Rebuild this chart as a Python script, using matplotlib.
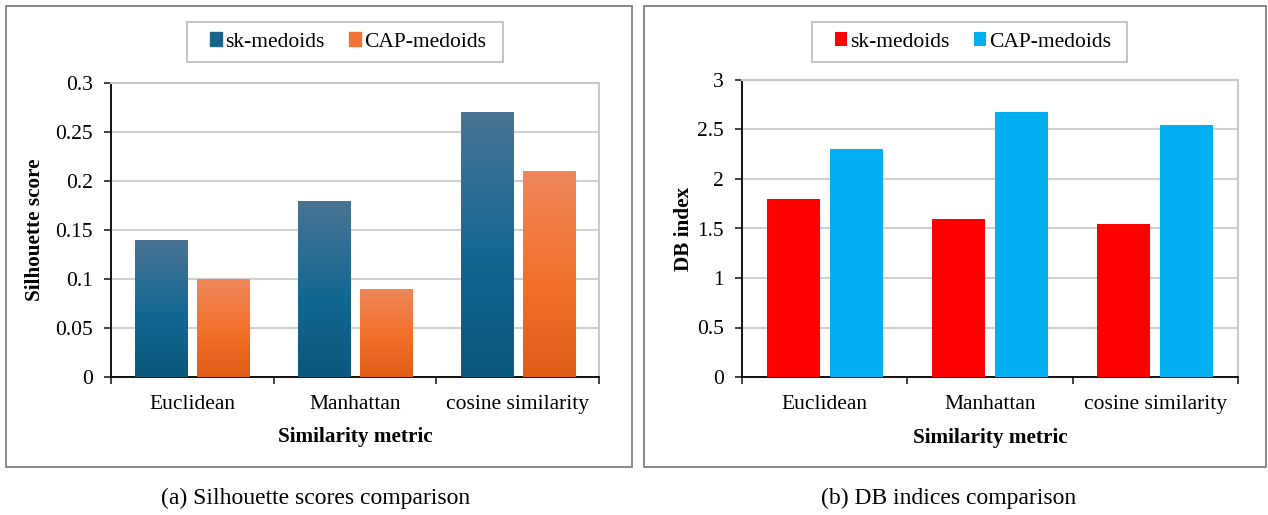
import numpy as np
import matplotlib.pyplot as plt
from matplotlib.colors import LinearSegmentedColormap
from matplotlib.patches import Rectangle

# Data
metrics = ["Euclidean", "Manhattan", "cosine similarity"]
series = ["sk-medoids", "CAP-medoids"]
silhouette_sk = [0.14, 0.18, 0.27]
silhouette_cap = [0.10, 0.09, 0.21]
db_sk = [1.80, 1.60, 1.55]
db_cap = [2.30, 2.68, 2.55]

plt.rcParams['font.family'] = ['Liberation Serif', 'DejaVu Serif']

BAR_W = 0.32
OFFSET = 0.19
TICK_FS = 15.5
LABEL_FS = 15.3

# gradients from bottom to top
blue_grad = LinearSegmentedColormap.from_list(
    "blue", [(0, "#0b587b"), (0.45, "#126892"), (1, "#4b7494")])
orange_grad = LinearSegmentedColormap.from_list(
    "orange", [(0, "#e05d18"), (0.45, "#f26f28"), (1, "#ee875a")])

W, H = 1268, 515


def gradient_bars(ax, bars, cmap):
    grad = np.linspace(0, 1, 256).reshape(-1, 1)
    for b in bars:
        x, y = b.get_x(), b.get_y()
        w, h = b.get_width(), b.get_height()
        im = ax.imshow(grad, cmap=cmap, origin="lower", aspect="auto",
                       extent=(x, x + w, y, y + h), zorder=3)
        im.set_clip_path(b)
        b.set_alpha(0)


def style_axes(ax, ymax, ystep, ylabel, ylabel_x):
    x = np.arange(len(metrics))
    yt = np.arange(0, ymax + ystep / 2, ystep)
    ax.set_xlim(-0.5, len(metrics) - 0.5)
    ax.set_ylim(0, ymax)
    ax.set_yticks(yt)
    ax.set_yticklabels(["%g" % v for v in yt])
    ax.set_xticks(np.arange(-0.5, len(metrics)))
    ax.set_xticklabels([])
    ax.set_xticks(x, minor=True)
    ax.set_xticklabels(metrics, minor=True)
    ax.tick_params(axis="x", which="major", direction="out", length=5,
                   width=1.3, color="#333333")
    ax.tick_params(axis="x", which="minor", length=0, pad=13,
                   labelsize=TICK_FS)
    ax.tick_params(axis="y", direction="out", length=5, width=1.3,
                   color="#333333", labelsize=TICK_FS, pad=8)
    ax.grid(axis="y", color="#d0d0d0", linewidth=1.5, zorder=0)
    ax.set_axisbelow(True)
    for s in ("top", "right"):
        ax.spines[s].set_color("#c8c8c8")
        ax.spines[s].set_linewidth(1.5)
    for s in ("left", "bottom"):
        ax.spines[s].set_color("black")
        ax.spines[s].set_linewidth(1.3)
    ax.set_xlabel("Similarity metric", fontsize=LABEL_FS, fontweight="bold",
                  va="center")
    ax.xaxis.set_label_coords(0.5, -60 / 294)
    ax.set_ylabel(ylabel, fontsize=LABEL_FS, fontweight="bold", va="center")
    ax.yaxis.set_label_coords(ylabel_x, 0.5)


def legend_box(fig, ax, handles, x0, x1, cx):
    fig.patches.append(Rectangle((x0 / W, (H - 62) / H), (x1 - x0) / W,
                                 40 / H, transform=fig.transFigure,
                                 fill=False, edgecolor="#bfbfbf",
                                 linewidth=1.3))
    ax.legend(handles, series, loc="center",
              bbox_to_anchor=(cx / W, (H - 42) / H),
              bbox_transform=fig.transFigure, ncol=2, fontsize=TICK_FS,
              frameon=False, handlelength=0.56, handleheight=0.56,
              handletextpad=0.15, columnspacing=1.15, borderpad=0,
              borderaxespad=0)


fig = plt.figure(figsize=(12.68, 5.15), dpi=100)

# panel frames
for x0, x1 in ((6, 632), (644, 1266)):
    fig.patches.append(Rectangle((x0 / W, (H - 467) / H), (x1 - x0) / W,
                                 461 / H, transform=fig.transFigure,
                                 fill=False, edgecolor="#7f7f7f",
                                 linewidth=1.3))

ax1 = fig.add_axes([111 / W, (H - 377) / H, 488 / W, 294 / H])
ax2 = fig.add_axes([742 / W, (H - 377) / H, 496 / W, 297 / H])

x = np.arange(len(metrics))

# (a) silhouette
b1 = ax1.bar(x - OFFSET, silhouette_sk, BAR_W, color="#126892", zorder=3)
b2 = ax1.bar(x + OFFSET, silhouette_cap, BAR_W, color="#f26f28", zorder=3)
gradient_bars(ax1, b1, blue_grad)
gradient_bars(ax1, b2, orange_grad)
style_axes(ax1, 0.3, 0.05, "Silhouette score", (35 - 111) / 488)
h1 = [Rectangle((0, 0), 1, 1, color="#1a6488"),
      Rectangle((0, 0), 1, 1, color="#ef7436")]
legend_box(fig, ax1, h1, 187, 503, 348)

# (b) DB index
b3 = ax2.bar(x - OFFSET, db_sk, BAR_W, color="#ff0000", zorder=3)
b4 = ax2.bar(x + OFFSET, db_cap, BAR_W, color="#00b0f0", zorder=3)
style_axes(ax2, 3, 0.5, "DB index", (684 - 742) / 496)
legend_box(fig, ax2, [b3[0], b4[0]], 812, 1127, 973)

fig.text(316 / W, (H - 498) / H, "(a) Silhouette scores comparison",
         ha="center", va="center", fontsize=17)
fig.text(949 / W, (H - 498) / H, "(b) DB indices comparison",
         ha="center", va="center", fontsize=17)

fig.savefig("out.png", dpi=100)
